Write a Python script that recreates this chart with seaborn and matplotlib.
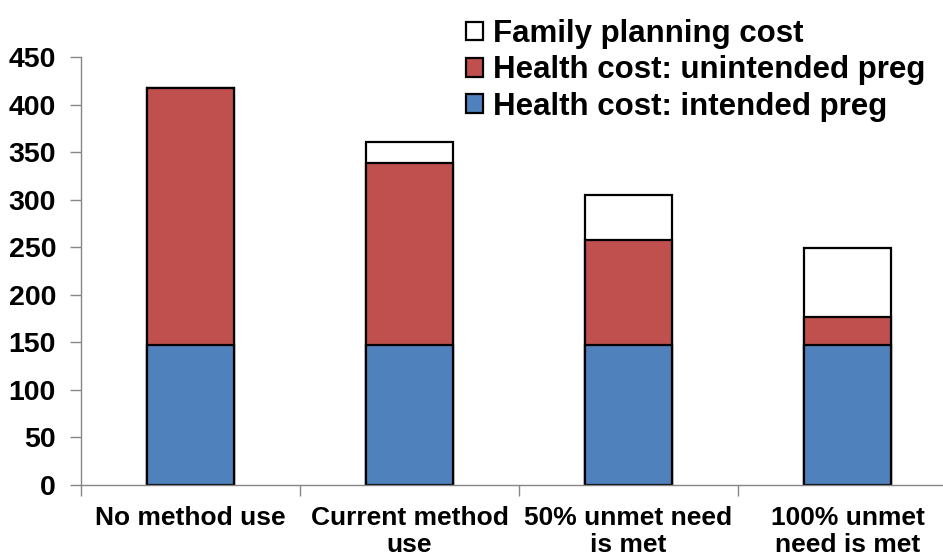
import matplotlib
matplotlib.use("Agg")
import matplotlib.pyplot as plt
from matplotlib.patches import Patch
import seaborn as sns
import pandas as pd

# Scenario data (cost per scenario, stacked)
scenarios = ["No method use", "Current method\nuse", "50% unmet need\nis met", "100% unmet\nneed is met"]
intended_cost = [147, 147, 147, 147]
unintended_cost = [270, 192, 111, 30]
fp_cost = [0, 22, 47, 72]
yticks = [0, 50, 100, 150, 200, 250, 300, 350, 400, 450]

sns.set_theme(style="white")
plt.rcParams["font.family"] = ["Liberation Sans", "DejaVu Sans"]
plt.rcParams["font.weight"] = "bold"
plt.rcParams["text.color"] = "black"
plt.rcParams["xtick.color"] = "black"
plt.rcParams["ytick.color"] = "black"

df = pd.DataFrame({
    "scenario": scenarios,
    "intended": intended_cost,
    "unintended": unintended_cost,
    "fp": fp_cost,
})
df["health_total"] = df["intended"] + df["unintended"]
df["total"] = df["health_total"] + df["fp"]

fig = plt.figure(figsize=(9.43, 5.57), dpi=100)
ax = fig.add_axes([81 / 943, 72 / 557, 876 / 943, 428 / 557])

blue = "#4F81BD"
red = "#C0504D"
edge = dict(edgecolor="black", linewidth=1.6)

# Overlapping cumulative bars give the stacked look: total, health total, intended
sns.barplot(data=df, x="scenario", y="total", color="white", width=0.4,
            saturation=1, ax=ax, **edge)
sns.barplot(data=df, x="scenario", y="health_total", color=red, width=0.4,
            saturation=1, ax=ax, **edge)
sns.barplot(data=df, x="scenario", y="intended", color=blue, width=0.4,
            saturation=1, ax=ax, **edge)

ax.set_ylim(0, 450)
ax.set_xlim(-0.5, 3.5)
ax.set_yticks(yticks)
ax.set_yticklabels([str(v) for v in yticks], fontsize=20.5, fontweight="bold",
                   color="black")
ax.set_xlabel("")
ax.set_ylabel("")

# Category labels centred under bars, tick marks on category boundaries
ax.set_xticks([0, 1, 2, 3])
ax.set_xticklabels(scenarios, fontsize=19, fontweight="bold",
                   linespacing=1.15, color="black")
ax.tick_params(axis="x", length=0, pad=15)
ax.set_xticks([-0.5, 0.5, 1.5, 2.5, 3.5], minor=True)
ax.tick_params(axis="x", which="minor", length=8, width=1, color="#868686",
               direction="out", bottom=True)
ax.tick_params(axis="y", length=8, width=1, color="#868686", direction="out",
               left=True, pad=10)

for side in ("top", "right"):
    ax.spines[side].set_visible(False)
for side in ("left", "bottom"):
    ax.spines[side].set_color("#868686")
    ax.spines[side].set_linewidth(1)

handles = [
    Patch(facecolor="white", edgecolor="black", linewidth=1.6, label="Family planning cost"),
    Patch(facecolor=red, edgecolor="black", linewidth=1.6, label="Health cost: unintended preg"),
    Patch(facecolor=blue, edgecolor="black", linewidth=1.6, label="Health cost: intended preg"),
]
fig.legend(handles=handles, loc="upper left", bbox_to_anchor=(466 / 943, 1 - 19 / 557),
           frameon=False, prop={"size": 22.5, "weight": "bold"},
           handlelength=0.55, handleheight=0.55, handletextpad=0.3,
           labelspacing=0.2, borderaxespad=0, borderpad=0)

fig.savefig("out.png", dpi=100)
